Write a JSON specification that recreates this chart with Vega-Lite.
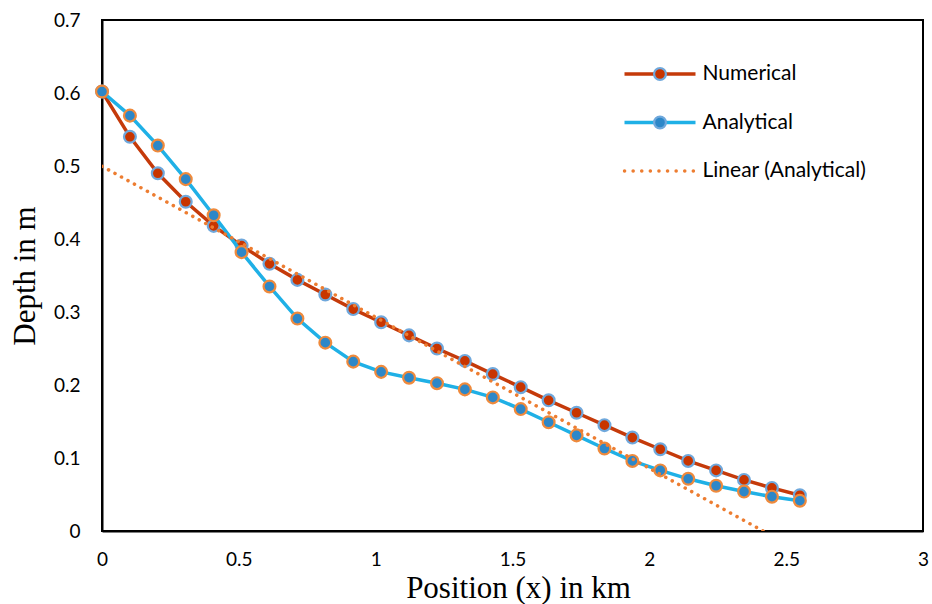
{
  "$schema": "https://vega.github.io/schema/vega-lite/v6.json",
  "width": 821,
  "height": 511,
  "autosize": "none",
  "padding": {"left": 102, "top": 20, "right": 9, "bottom": 73},
  "background": "white",
  "config": {
    "view": {"stroke": "#000", "strokeWidth": 2},
    "axis": {
      "grid": false, "ticks": false, "domainColor": "#000", "domainWidth": 2,
      "labelFont": "Lato", "labelFontSize": 19, "labelColor": "#000", "labelFlush": false,
      "titleFont": "Liberation Serif", "titleFontWeight": "normal", "titleColor": "#000"
    },
    "legend": {"labelFont": "Lato", "labelFontSize": 21, "labelColor": "#000", "padding": 0, "labelLimit": 400}
  },
  "data": {"values": [
    {"x": 0, "series": "Numerical", "depth": 0.602},
    {"x": 0.102, "series": "Numerical", "depth": 0.540},
    {"x": 0.204, "series": "Numerical", "depth": 0.490},
    {"x": 0.306, "series": "Numerical", "depth": 0.451},
    {"x": 0.408, "series": "Numerical", "depth": 0.418},
    {"x": 0.510, "series": "Numerical", "depth": 0.391},
    {"x": 0.612, "series": "Numerical", "depth": 0.366},
    {"x": 0.714, "series": "Numerical", "depth": 0.344},
    {"x": 0.816, "series": "Numerical", "depth": 0.324},
    {"x": 0.918, "series": "Numerical", "depth": 0.304},
    {"x": 1.020, "series": "Numerical", "depth": 0.286},
    {"x": 1.122, "series": "Numerical", "depth": 0.268},
    {"x": 1.224, "series": "Numerical", "depth": 0.250},
    {"x": 1.326, "series": "Numerical", "depth": 0.233},
    {"x": 1.428, "series": "Numerical", "depth": 0.215},
    {"x": 1.530, "series": "Numerical", "depth": 0.197},
    {"x": 1.632, "series": "Numerical", "depth": 0.179},
    {"x": 1.734, "series": "Numerical", "depth": 0.162},
    {"x": 1.836, "series": "Numerical", "depth": 0.145},
    {"x": 1.938, "series": "Numerical", "depth": 0.128},
    {"x": 2.040, "series": "Numerical", "depth": 0.112},
    {"x": 2.142, "series": "Numerical", "depth": 0.096},
    {"x": 2.244, "series": "Numerical", "depth": 0.083},
    {"x": 2.346, "series": "Numerical", "depth": 0.070},
    {"x": 2.448, "series": "Numerical", "depth": 0.059},
    {"x": 2.550, "series": "Numerical", "depth": 0.049},
    {"x": 0, "series": "Analytical", "depth": 0.602},
    {"x": 0.102, "series": "Analytical", "depth": 0.569},
    {"x": 0.204, "series": "Analytical", "depth": 0.528},
    {"x": 0.306, "series": "Analytical", "depth": 0.482},
    {"x": 0.408, "series": "Analytical", "depth": 0.4325},
    {"x": 0.510, "series": "Analytical", "depth": 0.382},
    {"x": 0.612, "series": "Analytical", "depth": 0.335},
    {"x": 0.714, "series": "Analytical", "depth": 0.291},
    {"x": 0.816, "series": "Analytical", "depth": 0.258},
    {"x": 0.918, "series": "Analytical", "depth": 0.232},
    {"x": 1.020, "series": "Analytical", "depth": 0.218},
    {"x": 1.122, "series": "Analytical", "depth": 0.210},
    {"x": 1.224, "series": "Analytical", "depth": 0.2025},
    {"x": 1.326, "series": "Analytical", "depth": 0.194},
    {"x": 1.428, "series": "Analytical", "depth": 0.183},
    {"x": 1.530, "series": "Analytical", "depth": 0.167},
    {"x": 1.632, "series": "Analytical", "depth": 0.149},
    {"x": 1.734, "series": "Analytical", "depth": 0.131},
    {"x": 1.836, "series": "Analytical", "depth": 0.113},
    {"x": 1.938, "series": "Analytical", "depth": 0.096},
    {"x": 2.040, "series": "Analytical", "depth": 0.083},
    {"x": 2.142, "series": "Analytical", "depth": 0.0715},
    {"x": 2.244, "series": "Analytical", "depth": 0.062},
    {"x": 2.346, "series": "Analytical", "depth": 0.054},
    {"x": 2.448, "series": "Analytical", "depth": 0.047},
    {"x": 2.550, "series": "Analytical", "depth": 0.0415}
  ]},
  "encoding": {
    "x": {"field": "x", "type": "quantitative",
      "scale": {"domain": [0, 3], "nice": false, "zero": false},
      "axis": {"values": [0, 0.5, 1, 1.5, 2, 2.5, 3], "format": "~g", "title": "Position (x) in km",
        "labelPadding": 19, "titlePadding": 4, "titleFontSize": 31, "titleX": 416}},
    "y": {"field": "depth", "type": "quantitative",
      "scale": {"domain": [0, 0.7], "nice": false},
      "axis": {"values": [0, 0.1, 0.2, 0.3, 0.4, 0.5, 0.6, 0.7], "format": "~g", "title": "Depth in m",
        "labelPadding": 22, "titlePadding": 12, "titleFontSize": 31}}
  },
  "layer": [
    {
      "transform": [{"filter": "datum.series === 'Numerical'"}],
      "mark": {"type": "line", "strokeWidth": 3.5},
      "encoding": {
        "stroke": {"field": "series", "type": "nominal",
          "scale": {"domain": ["Numerical", "Analytical", "Linear (Analytical)"], "range": ["#C53A0A", "#1FB0E6", "#ED7D31"]},
          "legend": {"orient": "none", "legendX": 520.5, "legendY": 41, "title": null, "zindex": 0,
            "symbolType": "stroke", "symbolSize": 5041, "symbolStrokeWidth": 3.5, "labelOffset": 5,
            "clipHeight": 26, "rowPadding": 22.5,
            "encode": {"symbols": {"update": {
              "strokeDash": {"signal": "datum.value === 'Linear (Analytical)' ? [0.1, 8.5] : [1, 0]"},
              "strokeCap": {"signal": "datum.value === 'Linear (Analytical)' ? 'round' : 'butt'"}
            }}}}}
      }
    },
    {
      "transform": [{"filter": "datum.series === 'Numerical'"}],
      "mark": {"type": "circle", "size": 140, "stroke": "#6FA8DC", "strokeWidth": 2.2, "opacity": 1},
      "encoding": {
        "fill": {"field": "series", "type": "nominal",
          "scale": {"domain": ["Numerical", "Analytical"], "range": ["#C83500", "#2D87C8"]},
          "legend": {"orient": "none", "legendX": 547.5, "legendY": 41, "title": null, "zindex": 1,
            "symbolType": "circle", "symbolSize": 140, "symbolStrokeWidth": 2.2, "labelExpr": "''",
            "clipHeight": 26, "rowPadding": 22.5,
            "encode": {"symbols": {"update": {
              "stroke": {"signal": "datum.value === 'Numerical' ? '#6FA8DC' : '#EF8A3C'"},
              "opacity": {"value": 1}
            }}}}}
      }
    },
    {
      "transform": [{"filter": "datum.series === 'Analytical'"}],
      "mark": {"type": "line", "strokeWidth": 3.5},
      "encoding": {"stroke": {"field": "series", "type": "nominal"}}
    },
    {
      "transform": [{"filter": "datum.series === 'Analytical'"}],
      "mark": {"type": "circle", "size": 140, "stroke": "#EF8A3C", "strokeWidth": 2.2, "opacity": 1},
      "encoding": {"fill": {"field": "series", "type": "nominal"}}
    },
    {
      "transform": [{"filter": "datum.series === 'Analytical'"}, {"regression": "depth", "on": "x"}],
      "mark": {"type": "line", "strokeWidth": 3.5, "strokeDash": [0.1, 7.3], "strokeCap": "round", "clip": true},
      "encoding": {"stroke": {"datum": "Linear (Analytical)"}}
    }
  ]
}
